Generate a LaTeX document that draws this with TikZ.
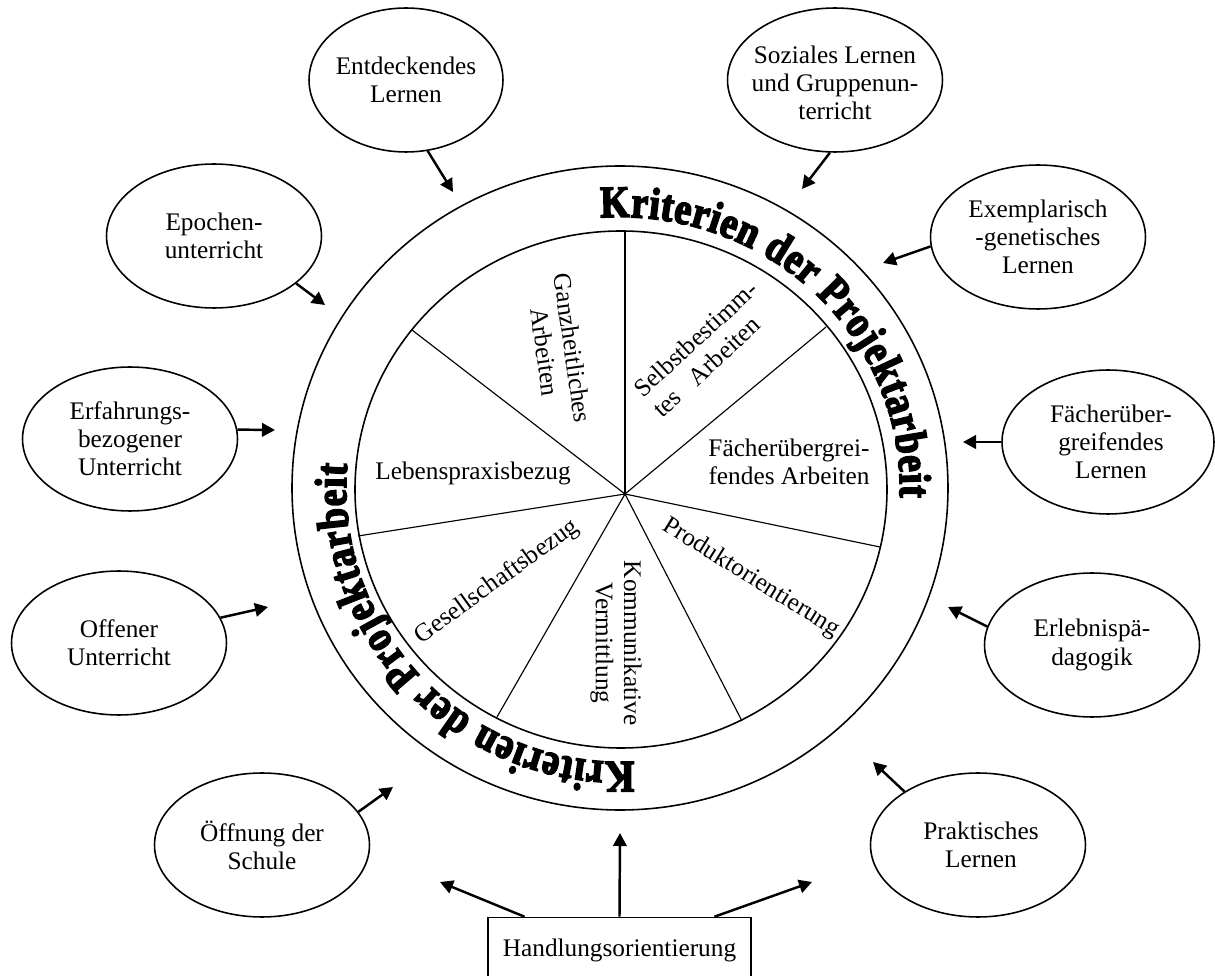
\documentclass[tikz,border=0pt]{standalone}
\usepackage{fontspec}
\setmainfont{Liberation Serif}
\newfontfamily\headfont{Liberation Serif Bold}[FakeBold=3.5, FakeStretch=0.84]
\usetikzlibrary{arrows.meta,shapes.geometric,decorations.text,calc}

\begin{document}
\begin{tikzpicture}[x=0.02cm, y=-0.02cm,
  font=\fontsize{14.4}{16}\selectfont,
  bubble/.style={ellipse, draw, line width=0.9pt, inner sep=0pt,
                 minimum width=4.3cm, minimum height=2.88cm},
  txt/.style={align=center, inner sep=0pt},
  arr/.style={line width=1.4pt, -{Triangle[length=0.26cm, width=0.27cm]}},
  ring/.style={line width=0.9pt},
  spoke/.style={line width=0.65pt},
  heading/.style={decorate, decoration={text along path, text align=fit to path,
      text={|\headfont\fontsize{25.5}{25.5}\selectfont|Kriterien der Projektarbeit}}}
]
\useasboundingbox (0,0) rectangle (1215,976);
\clip (0,0) rectangle (1215,976);

% the wheel: outer ring, inner disc and seven spokes
\coordinate (rc) at (620,488);
\coordinate (hub) at (625,494);
\draw[ring] (rc) ellipse [x radius=328, y radius=322];
\draw[ring] (621,489.5) ellipse [x radius=266, y radius=258.5];
\foreach \sx/\sy in {625/231, 826/327, 880/547, 742/721, 497/717, 358/536, 412/330}
  \draw[spoke] (hub) -- (\sx,\sy);

% title written twice along the ring
\path[heading] ($(rc)+(-94:280 and 271)$) arc[start angle=-94, end angle=2, x radius=280, y radius=271];
\path[heading] ($(rc)+(87:274)$) arc[start angle=87, end angle=185, radius=274];

% sector labels
\node[txt, rotate=-82] (s1) at (559,350) {Ganzheitliches\\Arbeiten};
\node[txt, align=left, rotate=42.5] (s2) at (705,349) {Selbstbestimm-\\tes\ \ \ Arbeiten};
\node[txt] (s3) at (789,462) {Fächerübergrei-\\fendes Arbeiten};
\node[txt, rotate=-31.8] (s4) at (751,578) {Produktorientierung};
\node[txt, rotate=-90] (s5) at (616,643) {Kommunikative\\Vermittlung};
\node[txt, rotate=35.8] (s6) at (497,582) {Gesellschaftsbezug};
\node[txt] (s7) at (473,473) {Lebenspraxisbezug};

% surrounding concepts
\node[bubble, minimum width=3.88cm] (e1) at (406,80) {};
\node[txt] (e1t) at (e1) {Entdeckendes\\Lernen};
\node[bubble] (e2) at (214,236) {};
\node[txt] (e2t) at (e2) {Epochen-\\unterricht};
\node[bubble] (e3) at (835,80) {};
\node[txt] (e3t) at ($(e3)+(0,3)$) {Soziales Lernen\\und Gruppenun-\\terricht};
\node[bubble] (e4) at (1038,237) {};
\node[txt] (e4t) at (e4) {Exemplarisch\\-genetisches\\Lernen};
\node[bubble, minimum width=4.24cm] (e5) at (1108,442) {};
\node[txt] (e5t) at ($(e5)+(3,0)$) {Fächerüber-\\greifendes\\Lernen};
\node[bubble] (e6) at (1092,645) {};
\node[txt] (e6t) at (e6) {Erlebnispä-\\dagogik};
\node[bubble] (e7) at (978,845) {};
\node[txt] (e7t) at ($(e7)+(3,0)$) {Praktisches\\Lernen};
\node[bubble] (e8) at (262,845) {};
\node[txt] (e8t) at (e8) {Öffnung der\\Schule};
\node[bubble] (e9) at (119,643) {};
\node[txt] (e9t) at (e9) {Offener\\Unterricht};
\node[bubble] (e10) at (130,439) {};
\node[txt] (e10t) at (e10) {Erfahrungs-\\bezogener\\Unterricht};

% arrow tips near the ring
\coordinate (a1) at (453,192);
\coordinate (a2) at (325,305);
\coordinate (a3) at (802,189);
\coordinate (a4) at (883,263);
\coordinate (a5) at (963,442);
\coordinate (a6) at (948,607);
\coordinate (a7) at (873,762);
\coordinate (a8) at (393,787);
\coordinate (a9) at (268,607);
\coordinate (a10) at (275,430);

\draw[arr] (e1.-73) -- (a1);
\draw[arr] (e2.-30) -- (a2);
\draw[arr] (e3.-94) -- (a3);
\draw[arr] (e4.-175) -- (a4);
\draw[arr] (e5.west) -- (a5);
\draw[arr] (e6.170) -- (a6);
\draw[arr] (e7.144) -- (a7);
\draw[arr] (e8.19) -- (a8);
\draw[arr] (e9.14) -- (a9);
\draw[arr] (e10.5) -- (a10);

% action orientation box with its three arrows
\node[draw, line width=0.9pt, minimum width=5.26cm, minimum height=1.3cm, inner sep=0pt]
  (hb) at (619.5,950) {Handlungsorientierung};
\coordinate (b1) at (440,882);
\coordinate (b2) at (620,833);
\coordinate (b3) at (812,882);
\draw[arr] ([xshift=-1.9cm]hb.north) -- (b1);
\draw[arr] (hb.north) -- (b2);
\draw[arr] ([xshift=1.9cm]hb.north) -- (b3);
\end{tikzpicture}
\end{document}
